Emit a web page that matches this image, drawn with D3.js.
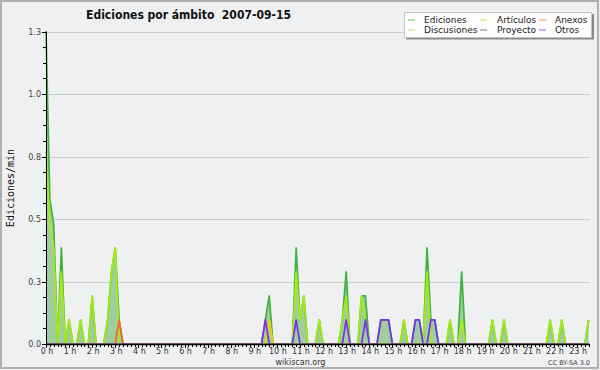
<!doctype html>
<html>
<head>
<meta charset="utf-8">
<script src="https://cdn.jsdelivr.net/npm/d3@7/dist/d3.min.js"></script>
<style>
  body { margin: 0; background: #eff0f2; }
  svg { display: block; }
  text { font-family: "DejaVu Sans", sans-serif; }
</style>
</head>
<body>
<svg id="chart" width="600" height="370"></svg>
<script>
// edits per minute, one value per 10 minute bin (0:00 .. 23:30)
var ediciones = [
  1.3,0.6,0.5,0,0.4,0, 0.1,0,0,0.1,0,0, 0.2,0,0,0,0.1,0.3, 0.4,0.1,0,0,0,0,
  0,0,0,0,0,0, 0,0,0,0,0,0, 0,0,0,0,0,0, 0,0,0,0,0,0,
  0,0,0,0,0,0, 0,0,0,0.1,0.2,0, 0,0,0,0,0,0.4, 0.1,0.2,0,0,0,0.1,
  0,0,0,0,0,0.1, 0.3,0,0,0,0.2,0.2, 0,0,0,0.1,0.1,0.1, 0,0,0,0.1,0,0,
  0.1,0.1,0,0.4,0.1,0.1, 0,0,0,0.1,0,0, 0.3,0,0,0,0,0, 0,0,0.1,0,0,0.1,
  0,0,0,0,0,0, 0,0,0,0,0,0.1, 0,0,0.1,0,0,0, 0,0,0,0.1
];
var articulos = [
  0.8,0.5,0.4,0,0.3,0, 0.1,0,0,0.1,0,0, 0.2,0,0,0,0.1,0.3, 0.4,0,0,0,0,0,
  0,0,0,0,0,0, 0,0,0,0,0,0, 0,0,0,0,0,0, 0,0,0,0,0,0,
  0,0,0,0,0,0, 0,0,0,0,0.1,0, 0,0,0,0,0,0.3, 0.1,0.2,0,0,0,0.1,
  0,0,0,0,0,0.1, 0.2,0,0,0,0.2,0.1, 0,0,0,0,0,0, 0,0,0,0.1,0,0,
  0,0,0,0.3,0,0, 0,0,0,0.1,0,0, 0.1,0,0,0,0,0, 0,0,0.1,0,0,0.1,
  0,0,0,0,0,0, 0,0,0,0,0,0.1, 0,0,0.1,0,0,0, 0,0,0,0.1
];
var anexos = [
  0,0,0,0,0,0, 0,0,0,0,0,0, 0,0,0,0,0,0, 0,0.1,0,0,0,0,
  0,0,0,0,0,0, 0,0,0,0,0,0, 0,0,0,0,0,0, 0,0,0,0,0,0,
  0,0,0,0,0,0, 0,0,0,0,0,0, 0,0,0,0,0,0, 0,0,0,0,0,0,
  0,0,0,0,0,0, 0,0,0,0,0,0, 0,0,0,0,0,0, 0,0,0,0,0,0,
  0,0,0,0,0,0, 0,0,0,0,0,0, 0,0,0,0,0,0, 0,0,0,0,0,0,
  0,0,0,0,0,0, 0,0,0,0,0,0, 0,0,0,0,0,0, 0,0,0,0
];
var discusiones = [
  0,0,0,0,0,0, 0,0,0,0,0,0, 0,0,0,0,0,0, 0,0,0,0,0,0,
  0,0,0,0,0,0, 0,0,0,0,0,0, 0,0,0,0,0,0, 0,0,0,0,0,0,
  0,0,0,0,0,0, 0,0,0,0,0.1,0, 0,0,0,0,0,0, 0,0,0,0,0,0,
  0,0,0,0,0,0, 0,0,0,0,0,0, 0,0,0,0,0,0, 0,0,0,0,0,0,
  0,0,0,0,0,0, 0,0,0,0,0,0, 0,0,0,0,0,0, 0,0,0,0,0,0,
  0,0,0,0,0,0, 0,0,0,0,0,0, 0,0,0,0,0,0, 0,0,0,0
];
var proyecto = [
  0,0,0,0,0,0, 0,0,0,0,0,0, 0,0,0,0,0,0, 0,0,0,0,0,0,
  0,0,0,0,0,0, 0,0,0,0,0,0, 0,0,0,0,0,0, 0,0,0,0,0,0,
  0,0,0,0,0,0, 0,0,0,0,0,0, 0,0,0,0,0,0, 0,0,0,0,0,0,
  0,0,0,0,0,0, 0,0,0,0,0,0, 0,0,0,0,0,0, 0,0,0,0,0,0,
  0,0,0,0,0,0, 0,0,0,0,0,0, 0,0,0,0,0,0, 0,0,0,0,0,0,
  0,0,0,0,0,0, 0,0,0,0,0,0, 0,0,0,0,0,0, 0,0,0,0
];
var otros = [
  0,0,0,0,0,0, 0,0,0,0,0,0, 0,0,0,0,0,0, 0,0,0,0,0,0,
  0,0,0,0,0,0, 0,0,0,0,0,0, 0,0,0,0,0,0, 0,0,0,0,0,0,
  0,0,0,0,0,0, 0,0,0,0.1,0,0, 0,0,0,0,0,0.1, 0,0,0,0,0,0,
  0,0,0,0,0,0, 0.1,0,0,0,0,0.1, 0,0,0,0.1,0.1,0.1, 0,0,0,0,0,0,
  0.1,0.1,0,0,0.1,0.1, 0,0,0,0,0,0, 0,0,0,0,0,0, 0,0,0,0,0,0,
  0,0,0,0,0,0, 0,0,0,0,0,0, 0,0,0,0,0,0, 0,0,0,0
];

var hourLabels = ["0 h","1 h","2 h","3 h","4 h","5 h","6 h","7 h","8 h","9 h","10 h","11 h",
                  "12 h","13 h","14 h","15 h","16 h","17 h","18 h","19 h","20 h","21 h","22 h","23 h"];
var yTicks = [0, 0.26, 0.52, 0.78, 1.04, 1.3];
var yTickLabels = ["0.0", "0.3", "0.5", "0.8", "1.0", "1.3"];

var series = [
  {name: "Ediciones",   values: ediciones,   color: "#3fb33f"},
  {name: "Artículos",   values: articulos,   color: "#a6ec14"},
  {name: "Anexos",      values: anexos,      color: "#f06a22"},
  {name: "Discusiones", values: discusiones, color: "#f0cc10"},
  {name: "Proyecto",    values: proyecto,    color: "#555555"},
  {name: "Otros",       values: otros,       color: "#7a2ef0"}
];

var svg = d3.select("#chart");
var x = d3.scaleLinear().domain([0, 141.35]).range([46, 590]);
var y = d3.scaleLinear().domain([0, 1.3]).range([344, 31.5]);

// frame
svg.append("rect").attr("x", 1).attr("y", 1).attr("width", 597).attr("height", 367)
  .attr("fill", "#eff0f2").attr("stroke", "#b0b0b0").attr("stroke-width", 2);

// grid
svg.append("g").selectAll("line").data(yTicks.slice(1)).enter().append("line")
  .attr("x1", x(0)).attr("x2", x.range()[1])
  .attr("y1", function(d) { return Math.round(y(d)) + 0.5; })
  .attr("y2", function(d) { return Math.round(y(d)) + 0.5; })
  .attr("stroke", "#cdcdcd").attr("stroke-width", 1);

svg.append("clipPath").attr("id", "plot")
  .append("rect").attr("x", 40).attr("y", 25).attr("width", 555).attr("height", 318.5);

var area = d3.area()
  .x(function(d, i) { return x(i); })
  .y0(y(0))
  .y1(function(d) { return y(d); });

var line = d3.line()
  .x(function(d, i) { return x(i); })
  .y(function(d) { return y(d); });

var plot = svg.append("g").attr("clip-path", "url(#plot)");
plot.append("path").attr("d", area(ediciones)).attr("fill", "#a0cda0");

plot.selectAll("path.serie").data(series).enter().append("path")
  .attr("class", "serie")
  .attr("d", function(d) { return line(d.values); })
  .attr("fill", "none")
  .attr("stroke", function(d) { return d.color; })
  .attr("stroke-width", 1.7)
  .attr("stroke-linejoin", "round");

// y axis
var yAxis = svg.append("g");
yAxis.append("line").attr("x1", 46.5).attr("x2", 46.5).attr("y1", y(1.3)).attr("y2", 344.5)
  .attr("stroke", "#000");
yAxis.selectAll("line.minor").data(d3.range(0, 21)).enter().append("line")
  .attr("class", "minor")
  .attr("x1", function(d) { return d % 4 == 0 ? 42 : 43; }).attr("x2", 46.5)
  .attr("y1", function(d) { return Math.round(y(d * 0.065)) + 0.5; })
  .attr("y2", function(d) { return Math.round(y(d * 0.065)) + 0.5; })
  .attr("stroke", "#000");
yAxis.selectAll("text").data(yTicks).enter().append("text")
  .attr("x", 41).attr("y", function(d) { return y(d) + 3; })
  .attr("text-anchor", "end").attr("font-size", "8px").attr("fill", "#444")
  .text(function(d, i) { return yTickLabels[i]; });

// x axis
var xAxis = svg.append("g");
xAxis.append("line").attr("x1", 46).attr("x2", 590).attr("y1", 344.5).attr("y2", 344.5)
  .attr("stroke", "#000").attr("stroke-width", 1.5);
xAxis.selectAll("line.tick").data(d3.range(0, 142)).enter().append("line")
  .attr("class", "tick")
  .attr("x1", function(d) { return Math.round(x(d)) + 0.5; })
  .attr("x2", function(d) { return Math.round(x(d)) + 0.5; })
  .attr("y1", 344).attr("y2", function(d) { return d % 6 == 0 ? 348 : 347; })
  .attr("stroke", "#000");
xAxis.selectAll("text").data(hourLabels).enter().append("text")
  .attr("x", function(d, i) { return x(i * 6) + 1; }).attr("y", 354)
  .attr("text-anchor", "middle").attr("font-size", "8px").attr("fill", "#333")
  .text(function(d) { return d; });

// titles
svg.append("text").attr("x", 188.5).attr("y", 18.5).attr("text-anchor", "middle")
  .attr("xml:space", "preserve").style("white-space", "pre")
  .style("font-family", "'DejaVu Sans Condensed', 'DejaVu Sans', sans-serif")
  .style("font-stretch", "condensed")
  .attr("font-size", "12px").attr("font-weight", "bold").attr("fill", "#111")
  .text("Ediciones por ámbito  2007-09-15");
svg.append("text").attr("transform", "translate(13.5,188) rotate(-90)")
  .attr("text-anchor", "middle").style("font-family", "'DejaVu Sans Mono', monospace")
  .attr("font-size", "10px").attr("fill", "#111").text("Ediciones/min");
svg.append("text").attr("x", 300.5).attr("y", 364.5).attr("text-anchor", "middle")
  .attr("font-size", "8px").attr("fill", "#333").text("wikiscan.org");
svg.append("text").attr("x", 590).attr("y", 364.5).attr("text-anchor", "end")
  .attr("font-size", "6.5px").attr("fill", "#444").text("CC BY-SA 3.0");

// legend
var legend = svg.append("g");
legend.append("rect").attr("x", 406).attr("y", 14).attr("width", 188).attr("height", 25.5).attr("fill", "#8a8a8a");
legend.append("rect").attr("x", 404.5).attr("y", 12.5).attr("width", 187).attr("height", 25)
  .attr("fill", "#fdfdfd").attr("stroke", "#c4c4c4");
var legendCols = [408, 480, 539];
var legendRows = [19.5, 29.5];
var legendOrder = ["Ediciones", "Artículos", "Anexos", "Discusiones", "Proyecto", "Otros"];
var item = legend.selectAll("g.item").data(legendOrder).enter().append("g")
  .attr("class", "item")
  .attr("transform", function(d, i) {
    return "translate(" + legendCols[i % 3] + "," + legendRows[Math.floor(i / 3)] + ")";
  });
item.append("line").attr("x1", 0).attr("x2", 7).attr("y1", 0.5).attr("y2", 0.5)
  .attr("stroke", function(d) { return series.find(function(s) { return s.name == d; }).color; })
  .attr("stroke-width", 1).attr("opacity", 0.75);
item.append("text").attr("x", function(d, i) { return [16, 17, 16][i % 3]; }).attr("y", 3.5)
  .attr("font-size", "9px").attr("fill", "#222").text(function(d) { return d; });
</script>
</body>
</html>
